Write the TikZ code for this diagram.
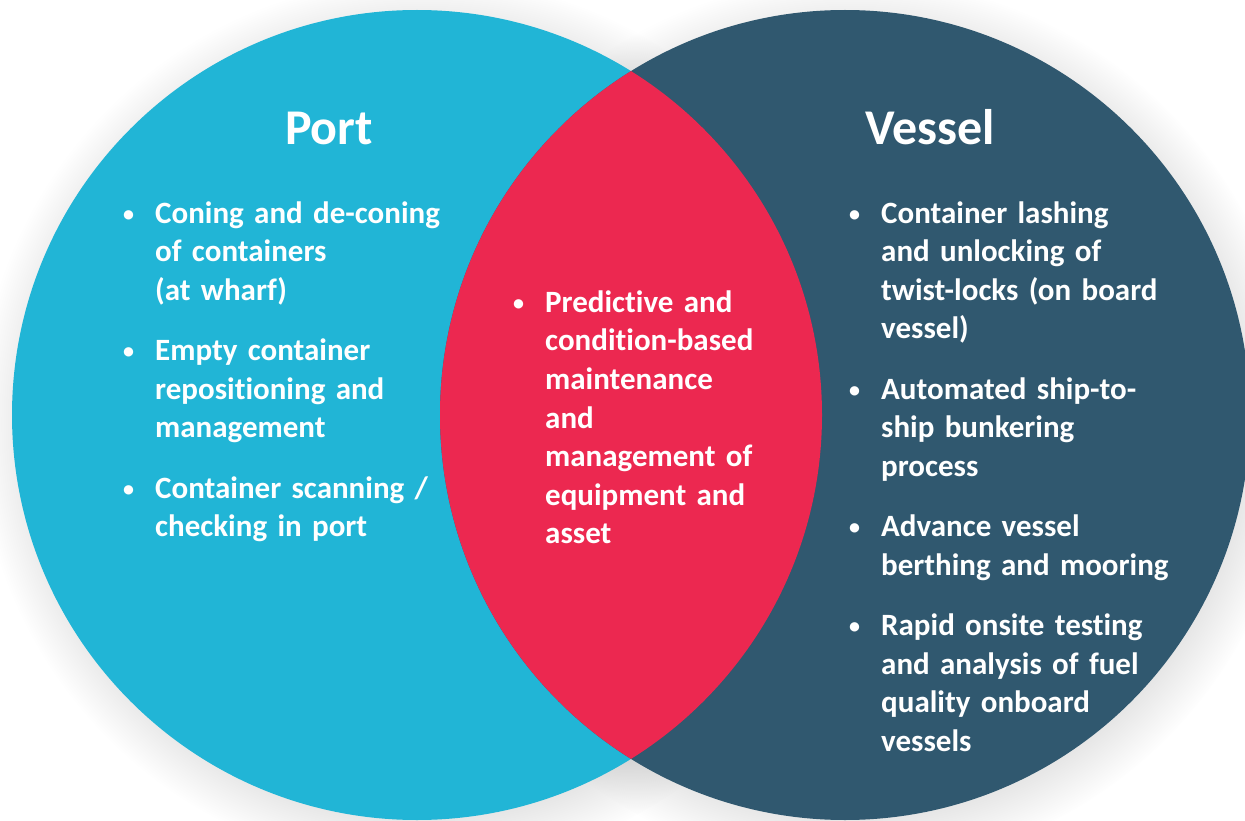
\documentclass[tikz,border=0pt]{standalone}
\usepackage{fontspec}
\setmainfont{Carlito}[Ligatures=NoCommon]
\usetikzlibrary{shadows}

\definecolor{portblue}{HTML}{21B5D6}
\definecolor{vesselblue}{HTML}{30586F}
\definecolor{overlapred}{HTML}{EC2850}

% one bullet point, later lines hang under the text
\newcommand\bul[1]{\par\noindent\hangindent=31pt\hangafter=1%
  \makebox[31pt][l]{\hspace{-1pt}\raisebox{2pt}{\fontsize{22}{22}\selectfont\textbullet}}#1\par}
\newcommand\gap{\vspace{22pt}}

\tikzset{
  kor/.style={circular drop shadow={shadow xshift=6pt,shadow yshift=-8pt,opacity=.25}},
  cim/.style={text=white,anchor=base,inner sep=0pt,font=\fontsize{50}{60}\selectfont\bfseries},
  lista/.style={text=white,anchor=base west,inner sep=0pt,text width=#1,align=left,
    font=\fontsize{31}{38.5}\selectfont\bfseries},
}

\begin{document}
\begin{tikzpicture}[x=1pt,y=-1pt]
  \useasboundingbox (0,0) rectangle (1245,821);
  \coordinate (portc) at (417,415);
  \coordinate (vesselc) at (845,415);

  % shadows first, then the two sets and their overlap
  \path[kor] (portc) circle (405pt);
  \path[kor] (vesselc) circle (405pt);
  \fill[portblue] (portc) circle (405pt);
  \fill[vesselblue] (vesselc) circle (405pt);
  \begin{scope}
    \clip (portc) circle (405pt);
    \fill[overlapred] (vesselc) circle (405pt);
  \end{scope}

  \node[cim] (port) at (329,145) {Port};
  \node[cim] (vessel) at (930,145) {Vessel};

  % the lists hang from the top of their box
  \node[lista=340pt] (portlist) at (124,185) {%
    \bul{Coning and de-coning\newline of containers\newline (at wharf)}\gap
    \bul{Empty container\newline repositioning and\newline management}\gap
    \bul{Container scanning /\newline checking in port}};

  \node[lista=280pt] (bothlist) at (514,274) {%
    \bul{Predictive and\newline condition-based\newline maintenance\newline and\newline
      management of\newline equipment and\newline asset}};

  \node[lista=360pt] (vessellist) at (850,185) {%
    \bul{Container lashing\newline and unlocking of\newline twist-locks (on board\newline vessel)}\gap
    \bul{Automated ship-to-\newline ship bunkering\newline process}\gap
    \bul{Advance vessel\newline berthing and mooring}\gap
    \bul{Rapid onsite testing\newline and analysis of fuel\newline quality onboard\newline vessels}};
\end{tikzpicture}
\end{document}
